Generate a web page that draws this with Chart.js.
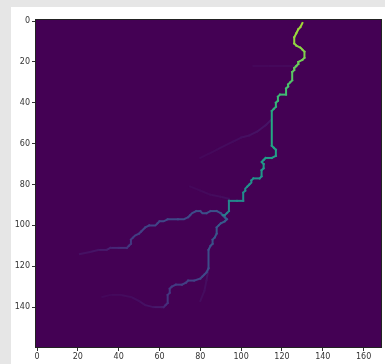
<!DOCTYPE html>
<html>
<head>
<meta charset="utf-8">
<script src="https://cdn.jsdelivr.net/npm/chart.js@4.4.1/dist/chart.umd.min.js"></script>
<style>
  html, body { margin: 0; padding: 0; background: #e6e6e6; width: 385px; height: 364px; overflow: hidden; }
  #wrap { position: absolute; left: 11px; top: 7px; width: 374px; height: 357px; background: #fff; }
</style>
</head>
<body>
<div id="wrap"><canvas id="myChart" width="374" height="357"></canvas></div>
<script>
// grid size of the image (columns x rows)
const nCols = 169;
const nRows = 160;
const xTicks = [0, 20, 40, 60, 80, 100, 120, 140, 160];
const yTicks = [0, 20, 40, 60, 80, 100, 120, 140];

// main channel: [col, row] cells and their intensity
const trunkCells = [[130,1],[129,3],[128,4],[127,6],[126,8],[126,11],[127,12],[129,13],[130,14],[131,15],[131,18],[130,19],[128,20],[128,21],[127,22],[126,23],[126,24],[125,25],[125,29],[124,30],[123,31],[123,32],[122,33],[122,36],[119,36],[118,37],[118,39],[117,40],[117,42],[116,43],[115,44],[115,61],[116,62],[117,63],[117,66],[115,67],[112,67],[111,68],[110,69],[111,70],[111,72],[110,73],[110,76],[109,77],[106,77],[105,78],[105,79],[104,80],[103,81],[102,82],[102,83],[101,84],[101,88],[98,88],[94,88],[94,93],[93,94],[92,95],[91,95]];
const trunkLevels = [0.86,0.86,0.85,0.85,0.84,0.84,0.83,0.83,0.82,0.82,0.8,0.79,0.78,0.77,0.77,0.76,0.76,0.75,0.73,0.72,0.72,0.71,0.71,0.69,0.68,0.68,0.67,0.66,0.65,0.64,0.63,0.58,0.57,0.57,0.56,0.55,0.55,0.54,0.54,0.54,0.53,0.53,0.52,0.51,0.51,0.5,0.5,0.5,0.49,0.49,0.49,0.48,0.47,0.47,0.46,0.45,0.44,0.42,0.4];

// branch running west from the fork
const westCells = [[91,95],[90,94],[88,93],[85,93],[83,94],[81,94],[80,93],[78,93],[76,94],[75,95],[74,96],[72,97],[69,97],[64,97],[62,98],[60,98],[59,99],[58,100],[55,100],[53,101],[52,102],[51,103],[50,104],[48,105],[47,106],[46,107],[46,109],[45,110],[44,111],[40,111],[36,111],[34,112],[30,112],[26,113],[21,114]];
const westLevels = [0.27,0.26,0.25,0.25,0.24,0.24,0.24,0.23,0.23,0.23,0.22,0.22,0.22,0.21,0.21,0.21,0.2,0.2,0.2,0.19,0.19,0.19,0.18,0.18,0.18,0.17,0.17,0.16,0.15,0.12,0.1,0.08,0.06,0.05,0.04];

// branch running south from the fork
const southCells = [[91,95],[92,96],[93,97],[92,98],[90,99],[89,100],[88,101],[88,104],[87,106],[86,107],[86,109],[85,110],[84,112],[84,121],[83,123],[82,124],[81,125],[80,126],[77,127],[74,127],[73,128],[71,129],[68,129],[66,130],[65,131],[65,133],[64,134],[64,138],[63,139],[62,140],[61,140],[57,140],[53,139],[50,137],[46,135],[41,134],[36,134],[32,135]];
const southLevels = [0.3,0.3,0.29,0.29,0.28,0.28,0.27,0.27,0.26,0.26,0.25,0.25,0.24,0.23,0.22,0.21,0.21,0.2,0.2,0.19,0.19,0.18,0.18,0.17,0.17,0.16,0.16,0.15,0.14,0.11,0.08,0.06,0.05,0.04,0.03,0.03,0.02,0.02];

// faint side channels
const faintA = [[115,48],[112,51],[108,54],[104,56],[100,57],[96,59],[92,61],[88,63],[84,65],[80,67]];
const faintALevels = [0.06,0.05,0.05,0.04,0.04,0.03,0.03,0.03,0.02,0.02];
const faintB = [[94,87],[90,86],[85,85],[80,83],[75,81]];
const faintBLevels = [0.04,0.03,0.03,0.02,0.02];
const faintC = [[84,121],[83,127],[82,132],[80,137]];
const faintCLevels = [0.05,0.04,0.03,0.03];
const faintD = [[127,22],[120,22],[113,22],[106,22]];
const faintDLevels = [0.025,0.02,0.02,0.015];

const viridisStops = ['#440154','#482475','#414487','#355f8d','#2a788e','#21918c','#22a884','#44bf70','#7ad151','#bddf26','#fde725'];

function hexToRgb(h) {
  return [parseInt(h.slice(1,3),16), parseInt(h.slice(3,5),16), parseInt(h.slice(5,7),16)];
}
function viridis(t) {
  t = Math.max(0, Math.min(1, t));
  const s = t * (viridisStops.length - 1);
  const i = Math.min(Math.floor(s), viridisStops.length - 2);
  const f = s - i;
  const a = hexToRgb(viridisStops[i]), b = hexToRgb(viridisStops[i + 1]);
  const c = a.map((v, k) => Math.round(v + (b[k] - v) * f));
  return 'rgb(' + c.join(',') + ')';
}

function branch(cells, levels, order) {
  return {
    data: cells.map((c, i) => ({ x: c[0], y: c[1], v: levels[i] })),
    borderWidth: 2,
    borderCapStyle: 'square',
    borderJoinStyle: 'miter',
    pointRadius: 0,
    tension: 0,
    fill: false,
    order: order,
    segment: {
      borderColor: ctx => {
        const d = ctx.chart.data.datasets[ctx.datasetIndex].data;
        return viridis((d[ctx.p0DataIndex].v + d[ctx.p1DataIndex].v) / 2);
      }
    }
  };
}

// fills the image background and draws the frame
const imageFrame = {
  id: 'imageFrame',
  beforeDatasetsDraw(chart) {
    const { ctx, chartArea: a } = chart;
    ctx.save();
    ctx.fillStyle = '#440154';
    ctx.fillRect(a.left, a.top, a.right - a.left, a.bottom - a.top);
    ctx.restore();
  },
  afterDraw(chart) {
    const { ctx, chartArea: a } = chart;
    ctx.save();
    ctx.strokeStyle = '#222';
    ctx.lineWidth = 1;
    ctx.strokeRect(a.left - 0.5, a.top - 0.5, a.right - a.left + 1, a.bottom - a.top + 1);
    ctx.restore();
  }
};

const tickFont = { family: 'DejaVu Sans', size: 8 };

new Chart("myChart", {
  type: "line",
  data: {
    datasets: [
      branch(trunkCells, trunkLevels, 0),
      branch(westCells, westLevels, 1),
      branch(southCells, southLevels, 2),
      branch(faintA, faintALevels, 3),
      branch(faintB, faintBLevels, 3),
      branch(faintC, faintCLevels, 3),
      branch(faintD, faintDLevels, 3)
    ]
  },
  options: {
    responsive: false,
    animation: false,
    layout: { padding: { top: 13, right: 4, left: 0, bottom: 0 } },
    scales: {
      x: {
        type: 'linear',
        min: -0.5,
        max: nCols - 0.5,
        afterBuildTicks: axis => { axis.ticks = xTicks.map(v => ({ value: v })); },
        afterFit: axis => { axis.height = 17; },
        border: { display: false },
        grid: { drawOnChartArea: false, drawTicks: true, tickLength: 4, color: '#333' },
        ticks: { font: tickFont, color: '#333', padding: 1, maxRotation: 0 }
      },
      y: {
        type: 'linear',
        reverse: true,
        min: -0.5,
        max: nRows - 0.5,
        afterBuildTicks: axis => { axis.ticks = yTicks.map(v => ({ value: v })); },
        afterFit: axis => { axis.width = 25; },
        border: { display: false },
        grid: { drawOnChartArea: false, drawTicks: true, tickLength: 4, color: '#333' },
        ticks: { font: tickFont, color: '#333', padding: 2 }
      }
    },
    plugins: {
      legend: { display: false },
      tooltip: { enabled: false }
    }
  },
  plugins: [imageFrame]
});
</script>
</body>
</html>
